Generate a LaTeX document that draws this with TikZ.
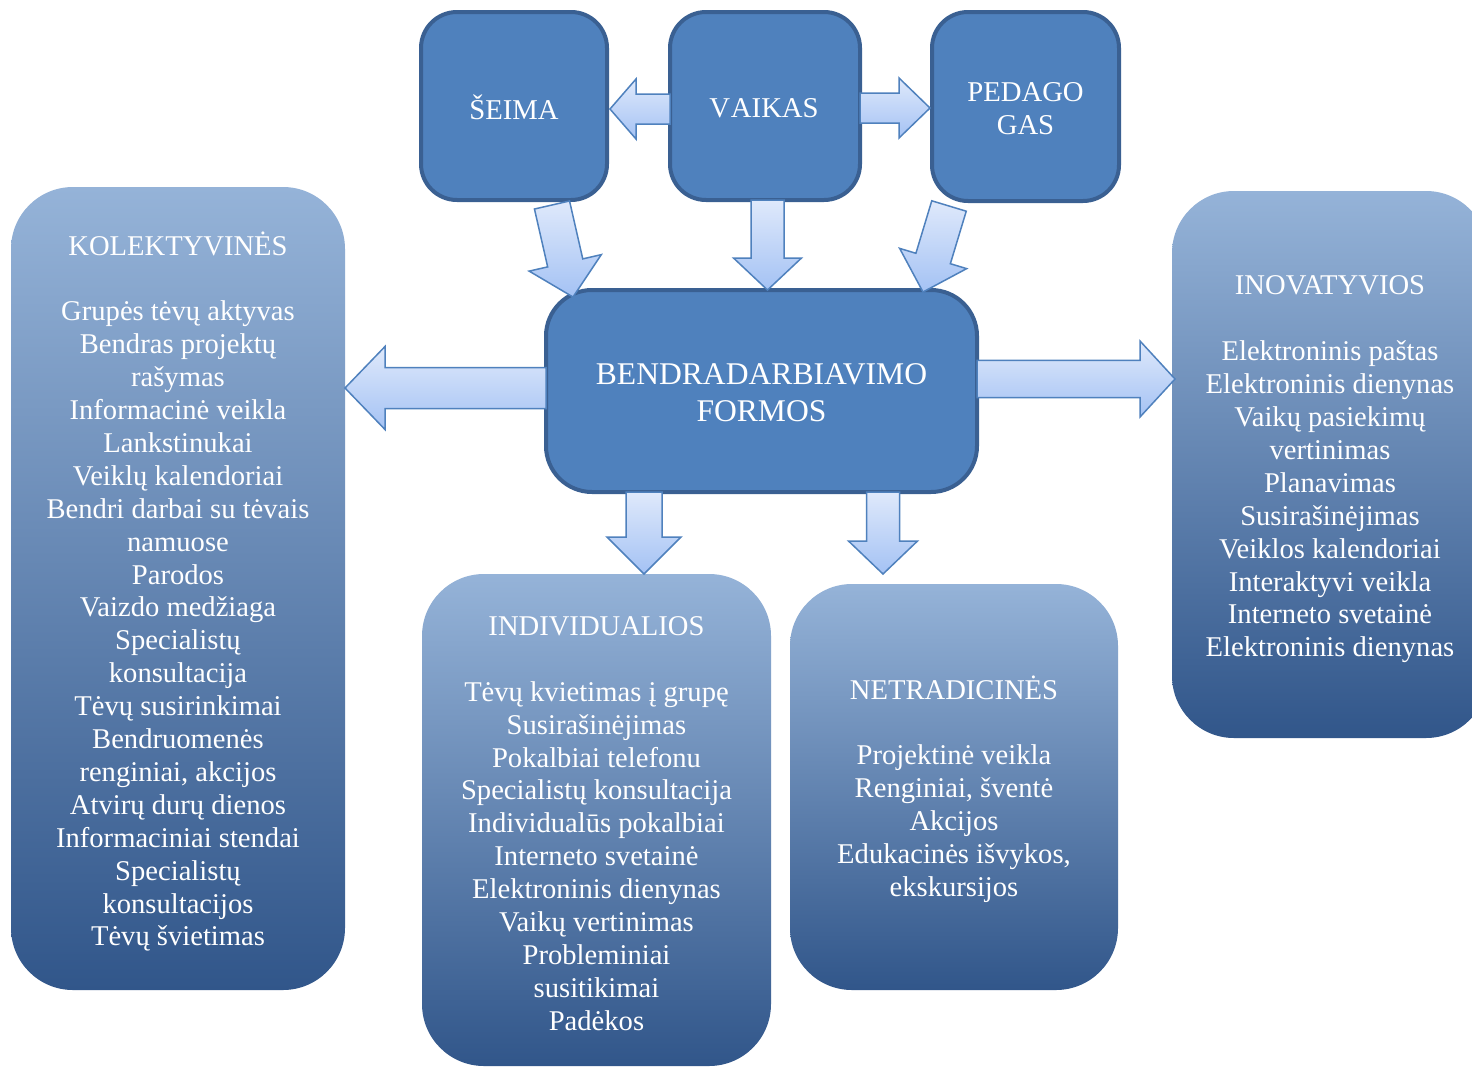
\documentclass[tikz,border=0pt]{standalone}
\usepackage{fontspec}
\setmainfont{Liberation Serif}
\usetikzlibrary{calc}
\definecolor{darkfill}{HTML}{4F81BD}
\definecolor{darkline}{HTML}{3A6092}
\definecolor{grTop}{HTML}{95B3D8}
\definecolor{grMid}{HTML}{5786C3}
\definecolor{grBot}{HTML}{31568A}
\definecolor{arrTop}{HTML}{DFE9FB}
\definecolor{arrBot}{HTML}{A4C2F4}
\definecolor{arrLine}{HTML}{4F81BD}
\newcommand\blockarrow[5]{%
  \coordinate (bah) at ($(#2)!#5!(#1)$);
  \draw[barrow] ($(#1)!#3!90:(#2)$) -- ($(bah)!#3!90:(#2)$) -- ($(bah)!#4!90:(#2)$) -- (#2)
    -- ($(bah)!#4!-90:(#2)$) -- ($(bah)!#3!-90:(#2)$) -- ($(#1)!#3!-90:(#2)$) -- cycle;
}
\begin{document}
\begin{tikzpicture}[x=1pt,y=-1pt,
  darkbox/.style={draw=darkline, line width=4pt, fill=darkfill, rounded corners=36pt,
    outer sep=0pt, inner sep=0pt},
  gradbox/.style={rounded corners=62pt, top color=grTop, middle color=grMid, bottom color=grBot,
    outer sep=0pt, inner sep=0pt},
  boxtext/.style={text=white, align=center, inner sep=0pt, font=\fontsize{28.6}{32.9}\selectfont},
  barrow/.style={draw=arrLine, line width=1.5pt, top color=arrTop, bottom color=arrBot, line join=miter}]
\useasboundingbox (0,0) rectangle (1472,1068);
\fill[white] (0,0) rectangle (1472,1068);

% gradient boxes
\node[gradbox, minimum width=334pt, minimum height=803pt] (kol) at (178,588.5) {};
\node[boxtext] (kolt) at ($(kol.center)+(0,3)$)
 {KOLEKTYVINĖS\\[32.9pt]
  Grupės tėvų aktyvas\\ Bendras projektų\\ rašymas\\ Informacinė veikla\\ Lankstinukai\\
  Veiklų kalendoriai\\ Bendri darbai su tėvais\\ namuose\\ Parodos\\ Vaizdo medžiaga\\
  Specialistų\\ konsultacija\\ Tėvų susirinkimai\\ Bendruomenės\\ renginiai, akcijos\\
  Atvirų durų dienos\\ Informaciniai stendai\\ Specialistų\\ konsultacijos\\ Tėvų švietimas};
\node[gradbox, minimum width=316pt, minimum height=547pt] (inov) at (1330,464.5) {};
\node[boxtext] (inovt) at ($(inov.center)+(0,5)$)
 {INOVATYVIOS\\[32.9pt]
  Elektroninis paštas\\ Elektroninis dienynas\\ Vaikų pasiekimų\\ vertinimas\\ Planavimas\\
  Susirašinėjimas\\ Veiklos kalendoriai\\ Interaktyvi veikla\\ Interneto svetainė\\ Elektroninis dienynas};
\node[gradbox, minimum width=349pt, minimum height=492pt] (indiv) at (596.5,820) {};
\node[boxtext] (indivt) at ($(indiv.center)+(0,3.5)$)
 {INDIVIDUALIOS\\[32.9pt]
  Tėvų kvietimas į grupę\\ Susirašinėjimas\\ Pokalbiai telefonu\\ Specialistų konsultacija\\
  Individualūs pokalbiai\\ Interneto svetainė\\ Elektroninis dienynas\\ Vaikų vertinimas\\
  Probleminiai\\ susitikimai\\ Padėkos};
\node[gradbox, minimum width=328pt, minimum height=406pt] (netr) at (954,787) {};
\node[boxtext] (netrt) at ($(netr.center)+(0,2)$)
 {NETRADICINĖS\\[32.9pt]
  Projektinė veikla\\ Renginiai, šventė\\ Akcijos\\ Edukacinės išvykos,\\ ekskursijos};

% dark boxes
\node[darkbox, minimum width=186pt, minimum height=188pt] (seima) at (514,106) {};
\node[darkbox, minimum width=190pt, minimum height=188pt] (vaikas) at (765,106) {};
\node[darkbox, minimum width=187pt, minimum height=189pt] (pedag) at (1025.5,106.5) {};
\node[darkbox, rounded corners=46pt, minimum width=431pt, minimum height=202pt] (bendr) at (761.5,391) {};
\node[boxtext, font=\fontsize{28.7}{33}\selectfont] (seimat) at ($(seima.center)+(0,1)$) {ŠEIMA};
\node[boxtext, font=\fontsize{28.7}{33}\selectfont] (vaikast) at ($(vaikas.center)+(-1,2)$) {V\kern1pt AIKAS};
\node[boxtext, font=\fontsize{28.7}{33}\selectfont] (pedagt) at ($(pedag.center)+(0,2)$) {PEDAGO\\GAS};
\node[boxtext, font=\fontsize{31.6}{37}\selectfont] (bendrt) at ($(bendr.center)+(0,2)$) {BENDRADARBIAVIMO\\FORMOS};

% arrow end points
\coordinate (aS) at ($(vaikas.west)+(0,3)$);   \coordinate (aE) at ($(seima.east)+(3,3)$);
\coordinate (bS) at ($(vaikas.east)+(0,2)$);   \coordinate (bE) at ($(pedag.west)+(-2,1.5)$);
\coordinate (cS) at ($(seima.south)+(38,5)$);  \coordinate (cE) at ($(bendr.north)+(-188.5,7)$);
\coordinate (dS) at ($(vaikas.south)+(2.5,0)$);\coordinate (dE) at ($(bendr.north)+(6,0)$);
\coordinate (eS) at ($(pedag.south)+(-76.5,5)$);\coordinate (eE) at ($(bendr.north)+(161.5,2)$);
\coordinate (fS) at ($(bendr.west)+(0,-3)$);   \coordinate (fE) at ($(kol.east |- bendr.west)+(0,-3)$);
\coordinate (gS) at ($(bendr.east)+(0,-12)$);  \coordinate (gE) at ($(inov.west |- bendr.east)+(3,-12)$);
\coordinate (hS) at ($(bendr.south)+(-117.5,0)$);\coordinate (hE) at ($(indiv.north)+(47.5,0)$);
\coordinate (iS) at ($(bendr.south)+(121.5,0)$); \coordinate (iE) at ($(netr.north)+(-71,-10)$);

\blockarrow{aS}{aE}{15pt}{30pt}{26pt}
\blockarrow{bS}{bE}{15pt}{30pt}{31pt}
\blockarrow{cS}{cE}{18pt}{37pt}{35pt}
\blockarrow{dS}{dE}{16.5pt}{34pt}{32pt}
\blockarrow{eS}{eE}{18pt}{35pt}{35pt}
\blockarrow{fS}{fE}{20.5pt}{41.5pt}{40pt}
\blockarrow{gS}{gE}{18.7pt}{38pt}{35pt}
\blockarrow{hS}{hE}{18pt}{37pt}{37pt}
\blockarrow{iS}{iE}{16.5pt}{34.5pt}{33pt}
\end{tikzpicture}
\end{document}
